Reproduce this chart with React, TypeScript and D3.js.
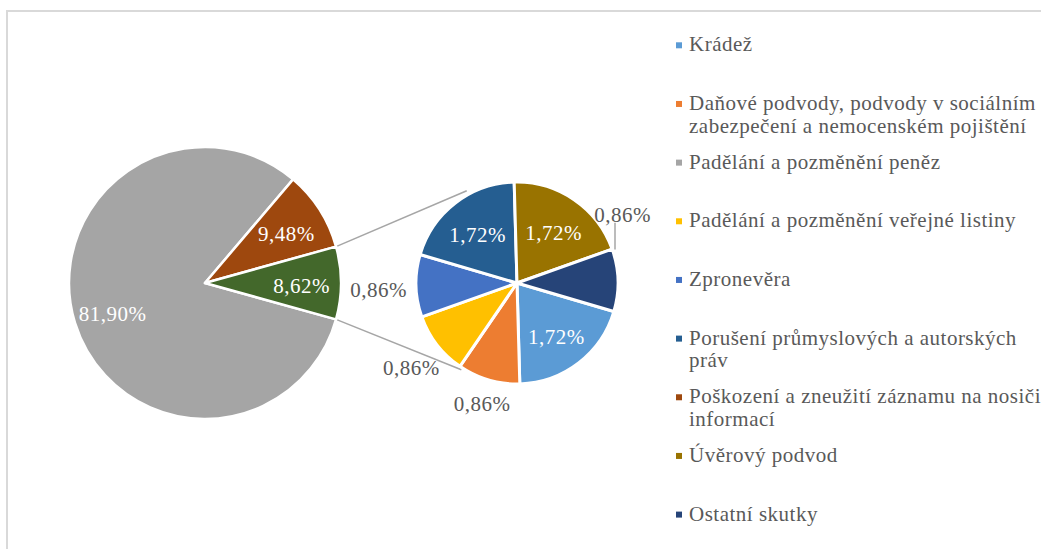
import React from "react";
import * as d3 from "d3";

// ---- data ----
const categories: string[] = [
  "Krádež",
  "Daňové podvody, podvody v sociálním\nzabezpečení a nemocenském pojištění",
  "Padělání a pozměnění peněz",
  "Padělání a pozměnění veřejné listiny",
  "Zpronevěra",
  "Porušení průmyslových a autorských\npráv",
  "Poškození a zneužití záznamu na nosiči\ninformací",
  "Úvěrový podvod",
  "Ostatní skutky",
];
const shares: number[] = [1.72, 0.86, 81.9, 0.86, 0.86, 1.72, 9.48, 1.72, 0.86];
const inSecondPie: boolean[] = [true, true, false, true, true, true, false, true, true];
const colors: string[] = [
  "#5B9BD5",
  "#ED7D31",
  "#A5A5A5",
  "#FFC000",
  "#4472C4",
  "#255E91",
  "#9E480E",
  "#997300",
  "#264478",
];
const otherColor = "#43682B";

// ---- layout / style ----
const W = 1041;
const H = 549;
const FONT = "Liberation Serif";
const FS = 21;
const LS = 0.5;
const TEXT_GRAY = "#595959";
const LINE_GRAY = "#A6A6A6";

const c1 = { x: 205, y: 283 };
const r1 = 136;
const c2 = { x: 517, y: 283 };
const r2 = 101;
const deg = Math.PI / 180;
const secondStart = 106.4 * deg;

const fmt = (v: number) => d3.format(".2f")(v).replace(".", ",") + "%";
const polar = (c: { x: number; y: number }, a: number, r: number) => ({
  x: c.x + r * Math.sin(a),
  y: c.y - r * Math.cos(a),
});

const textStyle: React.CSSProperties = { fontFamily: FONT, fontSize: FS, letterSpacing: LS };
const LABEL_DY = "0.48em";

export default function App() {
  const mainIdx = shares.map((_, i) => i).filter((i) => !inSecondPie[i]);
  const otherValue = 100 - d3.sum(mainIdx, (i) => shares[i]);
  const mainItems = [
    ...mainIdx.map((i) => ({ value: shares[i], color: colors[i], key: `m${i}` })),
    { value: otherValue, color: otherColor, key: "other" },
  ];
  const otherSpan = (otherValue / 100) * 2 * Math.PI;
  const mainStart = Math.PI / 2 + otherSpan / 2;
  const mainPie = d3
    .pie<any>()
    .sort(null)
    .value((d) => d.value)
    .startAngle(mainStart)
    .endAngle(mainStart + 2 * Math.PI);
  const mainArcs = mainPie(mainItems);
  const arc1 = d3.arc<any>().innerRadius(0).outerRadius(r1);
  const label1 = d3.arc<any>().innerRadius(r1 * 0.71).outerRadius(r1 * 0.71);

  const secIdx = shares.map((_, i) => i).filter((i) => inSecondPie[i]);
  const secItems = secIdx.map((i) => ({ value: shares[i], color: colors[i], idx: i }));
  const secPie = d3
    .pie<any>()
    .sort(null)
    .value((d) => d.value)
    .startAngle(secondStart)
    .endAngle(secondStart + 2 * Math.PI);
  const secArcs = secPie(secItems);
  const arc2 = d3.arc<any>().innerRadius(0).outerRadius(r2);
  const label2 = d3.arc<any>().innerRadius(r2 * 0.64).outerRadius(r2 * 0.64);

  const otherArc = mainArcs[mainArcs.length - 1];
  const pTop = polar(c1, otherArc.startAngle, r1);
  const pBot = polar(c1, otherArc.endAngle, r1);
  const qTop = polar(c2, -28.6 * deg, r2 + 4);
  const qBot = polar(c2, 212.7 * deg, r2 + 2);

  const legendY = d3.scaleLinear().domain([0, categories.length - 1]).range([45.3, 514.6]);

  const lw = 2.583 * FS + 5 * LS;
  const lh = 22;

  return (
    <svg width={W} height={H} style={{ position: "absolute", left: 0, top: 0, background: "#fff" }}>
      <rect x={7} y={11} width={1200} height={700} fill="#fff" stroke="#D9D9D9" strokeWidth={2} />

      <line x1={pTop.x} y1={pTop.y} x2={qTop.x} y2={qTop.y} stroke={LINE_GRAY} strokeWidth={1.6} />
      <line x1={pBot.x} y1={pBot.y} x2={qBot.x} y2={qBot.y} stroke={LINE_GRAY} strokeWidth={1.6} />

      <g transform={`translate(${c1.x},${c1.y})`}>
        {mainArcs.map((a) => (
          <path key={a.data.key} d={arc1(a) as string} fill={a.data.color} stroke="#fff" strokeWidth={2.5} strokeLinejoin="round" />
        ))}
        {mainArcs.map((a) => {
          const [x, y] = label1.centroid(a);
          return (
            <text key={"l" + a.data.key} x={x} y={y} dy={LABEL_DY} textAnchor="middle" style={textStyle} fill="#fff">
              {fmt(a.data.value)}
            </text>
          );
        })}
      </g>

      <g transform={`translate(${c2.x},${c2.y})`}>
        {secArcs.map((a) => (
          <path key={"s" + a.data.idx} d={arc2(a) as string} fill={a.data.color} stroke="#fff" strokeWidth={3} strokeLinejoin="round" />
        ))}
      </g>
      {secArcs.map((a) => {
        const mid = (a.startAngle + a.endAngle) / 2;
        const v = a.data.value;
        if (v >= 1.5) {
          const [x, y] = label2.centroid(a);
          return (
            <text key={"t" + a.data.idx} x={c2.x + x} y={c2.y + y} dy={LABEL_DY} textAnchor="middle" style={textStyle} fill="#fff">
              {fmt(v)}
            </text>
          );
        }
        const isLast = a.index === secArcs.length - 1;
        if (isLast) {
          const p = polar(c2, 56 * deg, 127.5);
          const end = polar(c2, a.startAngle + 1.5 * deg, r2);
          return (
            <g key={"t" + a.data.idx}>
              <line x1={end.x + 2} y1={p.y + lh / 2} x2={end.x + 2} y2={end.y - 2} stroke={LINE_GRAY} strokeWidth={1.5} />
              <text x={p.x} y={p.y} dy={LABEL_DY} textAnchor="middle" style={textStyle} fill={TEXT_GRAY}>
                {fmt(v)}
              </text>
            </g>
          );
        }
        const ext = Math.hypot((Math.sin(mid) * lw) / 2, (Math.cos(mid) * lh) / 2);
        const p = polar(c2, mid, r2 + 9 + ext);
        return (
          <text key={"t" + a.data.idx} x={p.x} y={p.y} dy={LABEL_DY} textAnchor="middle" style={textStyle} fill={TEXT_GRAY}>
            {fmt(v)}
          </text>
        );
      })}

      {categories.map((name, i) => {
        const y = legendY(i);
        const lines = name.split("\n");
        return (
          <g key={"lg" + i}>
            <rect x={676} y={y - 3} width={6} height={6} fill={colors[i]} />
            <text x={689} y={y + 6} style={textStyle} fill={TEXT_GRAY}>
              {lines.map((ln, k) => (
                <tspan key={k} x={689} y={y + 6 + k * 22.7}>
                  {ln}
                </tspan>
              ))}
            </text>
          </g>
        );
      })}
    </svg>
  );
}
